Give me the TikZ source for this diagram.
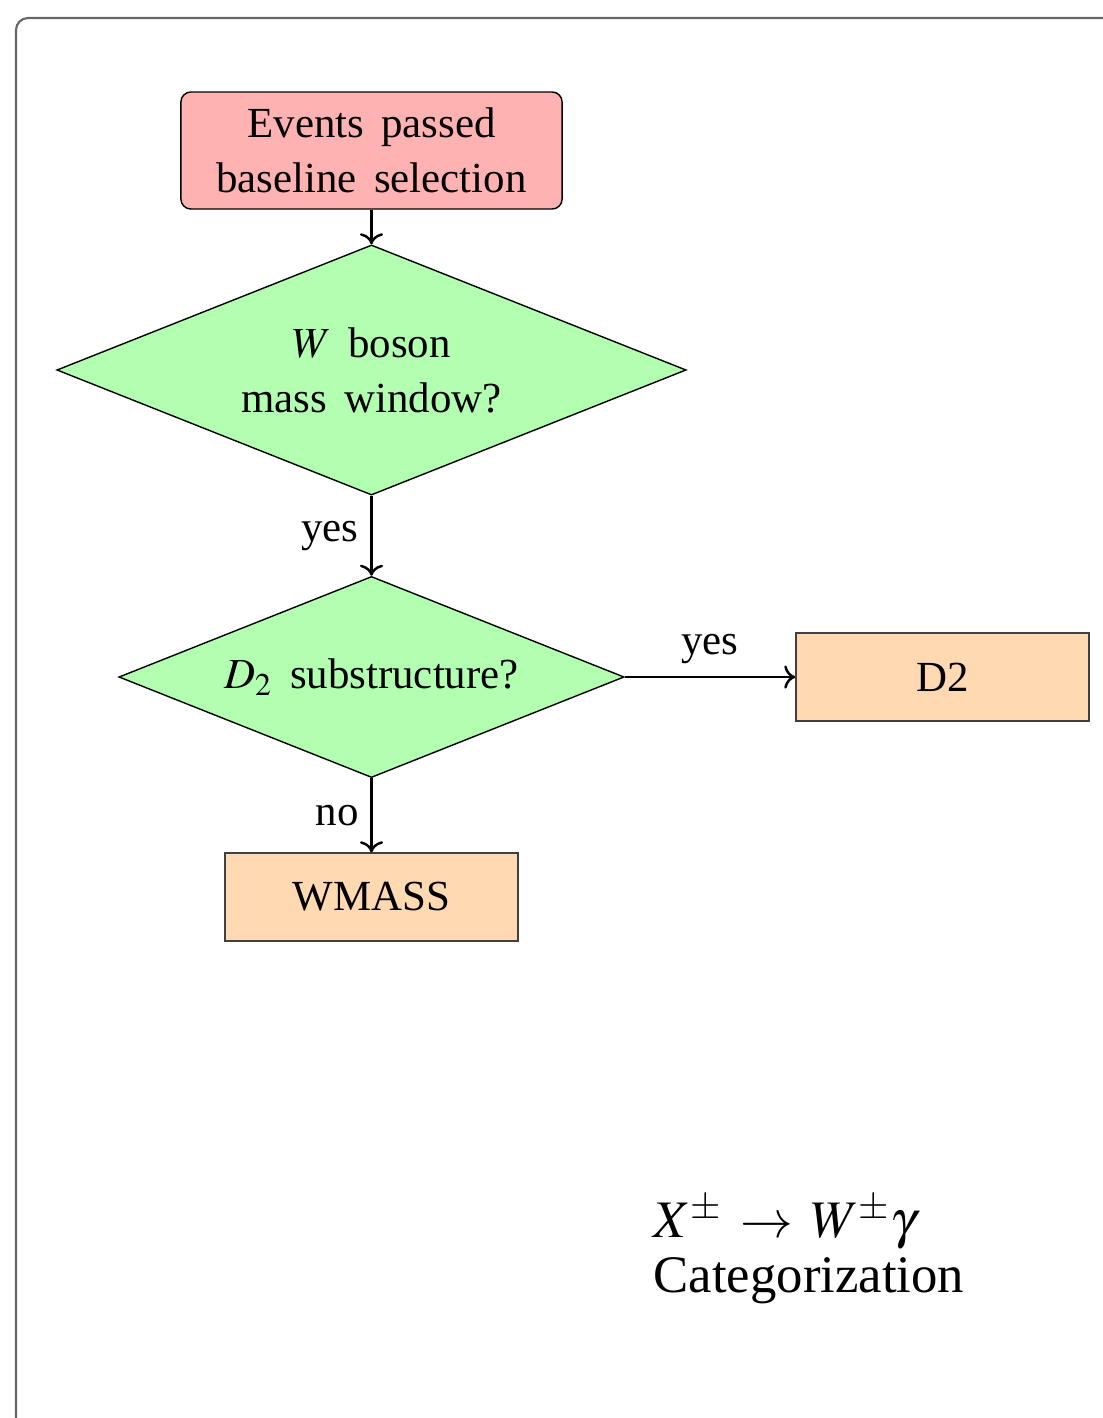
\documentclass[tikz,border=0pt]{standalone}
\usepackage{mathptmx}
\usepackage[no-math]{fontspec}
\setmainfont{Liberation Serif}
\usetikzlibrary{shapes.geometric,positioning,arrows.meta}
\newcommand\boxfont{\fontsize{12.2}{15.6}\selectfont\spaceskip=0.4em\relax}

\begin{document}
\begin{tikzpicture}[x=0.01cm,y=-0.01cm]
		\useasboundingbox (0,0) rectangle (1103,1418);
		\begin{scope}
			\clip (0,0) rectangle (1103,1418);
			\draw[black!60,line width=0.6pt,rounded corners=0.12cm] (16,18) rectangle (1150,1460);
		\end{scope}

		\begin{scope}[every node/.style={draw,font=\boxfont}]
			\node[rounded corners=0.1cm,fill=red!30,minimum width=3.81cm,minimum height=1.17cm,align=center] (a) at (371.5,150.5) {Events passed\\baseline selection};
			\node[diamond,aspect=2.5,fill=green!30,minimum width=6.29cm,minimum height=2.5cm,inner sep=0pt,align=center] (b) at (371.5,370) {$W$ boson\\mass window?};
			\node[diamond,aspect=2.5,fill=green!30,minimum width=5.05cm,minimum height=2.01cm,inner sep=0pt] (c) at (371.5,677) {$D_2$ substructure?};
			\node[fill=orange!30,draw=black!75,minimum width=2.93cm,minimum height=0.88cm] (d) at (942.5,677) {D2};
			\node[fill=orange!30,draw=black!75,minimum width=2.93cm,minimum height=0.88cm] (e) at (371.5,897) {WMASS};
		\end{scope}

		\begin{scope}[->,line width=0.7pt,every node/.style={font=\boxfont}]
			\path (a) edge (b);
			\path (b) edge node[left] {yes} (c);
			\path (c) edge node[above] {yes} (d);
			\path (c) edge node[left] {no} (e);
		\end{scope}

		\node[anchor=west,align=left,inner sep=0pt,font=\fontsize{15}{15.6}\selectfont] (title) at (653,1250) {$X^\pm\,\to\,W^\pm\gamma$\\Categorization};
	\end{tikzpicture}
\end{document}
